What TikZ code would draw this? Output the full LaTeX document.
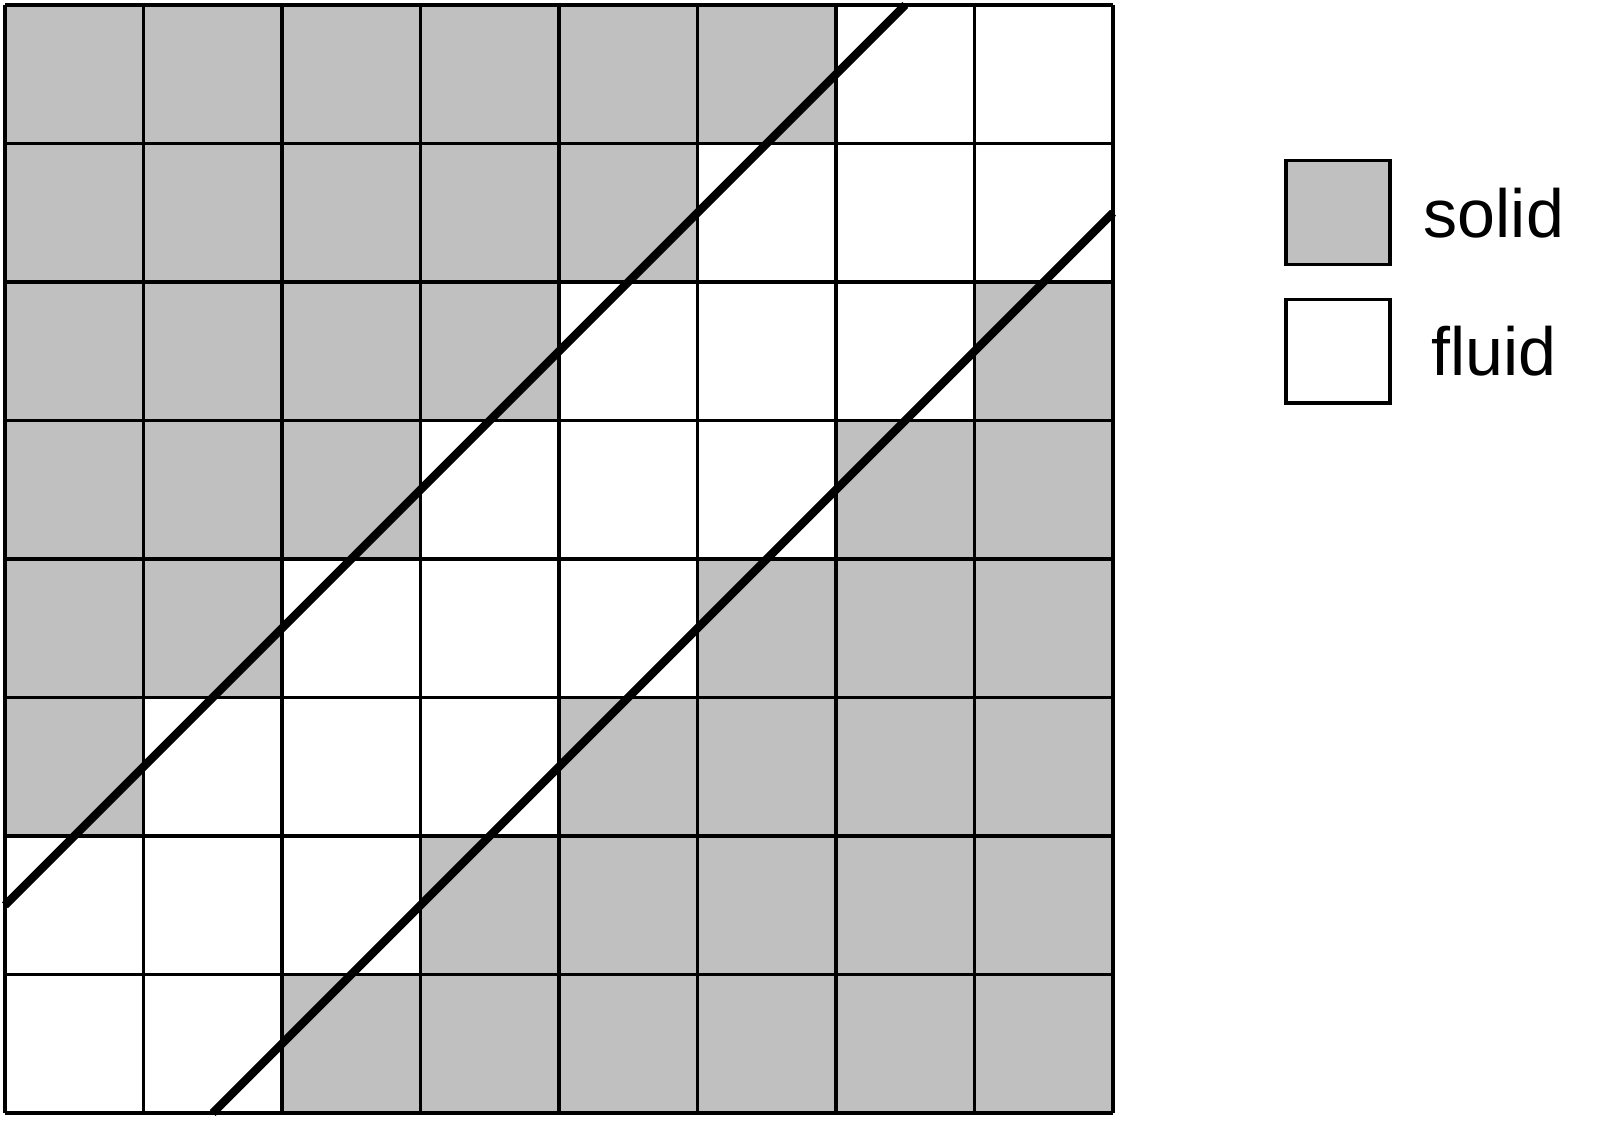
\documentclass[tikz,border=0pt]{standalone}
\usepackage{fontspec}
\setmainfont{Liberation Sans}
\usetikzlibrary{positioning}

\definecolor{solidgray}{HTML}{C0C0C0}
\tikzstyle{cellgrid}=[line width=0.65pt]
\tikzstyle{wall}=[line width=1.7pt, line cap=butt]
\tikzstyle{legendbox}=[draw, line width=0.7pt, rectangle, minimum width=0.75cm, minimum height=0.75cm, inner sep=0pt]
\tikzstyle{legendtext}=[font=\fontsize{14}{16}\selectfont, inner sep=0pt]

\begin{document}
\begin{tikzpicture}
  \useasboundingbox (-0.036,-0.072) rectangle (11.516,8.036);

  % solid cells
  \fill[solidgray] (0,8) -- (6,8) -- (6,7) -- (5,7) -- (5,6) -- (4,6) -- (4,5)
    -- (3,5) -- (3,4) -- (2,4) -- (2,3) -- (1,3) -- (1,2) -- (0,2) -- cycle;
  \fill[solidgray] (8,6) -- (8,0) -- (2,0) -- (2,1) -- (3,1) -- (3,2) -- (4,2)
    -- (4,3) -- (5,3) -- (5,4) -- (6,4) -- (6,5) -- (7,5) -- (7,6) -- cycle;
  \draw[cellgrid] (0,0) grid (8,8);

  % walls
  \coordinate (W1a) at (0,1.5);
  \coordinate (W1b) at (6.5,8);
  \coordinate (W2a) at (1.5,0);
  \coordinate (W2b) at (8,6.5);
  \draw[wall] (W1a) -- (W1b);
  \draw[wall] (W2a) -- (W2b);

  % legend
  \node[legendbox, fill=solidgray] (S) at (9.625,6.5) {};
  \node[legendbox, fill=white] (F) at (9.625,5.5) {};
  \node[legendtext] (Ls) at (10.75,6.5) {solid};
  \node[legendtext] (Lf) at (10.75,5.5) {fluid};
\end{tikzpicture}
\end{document}
